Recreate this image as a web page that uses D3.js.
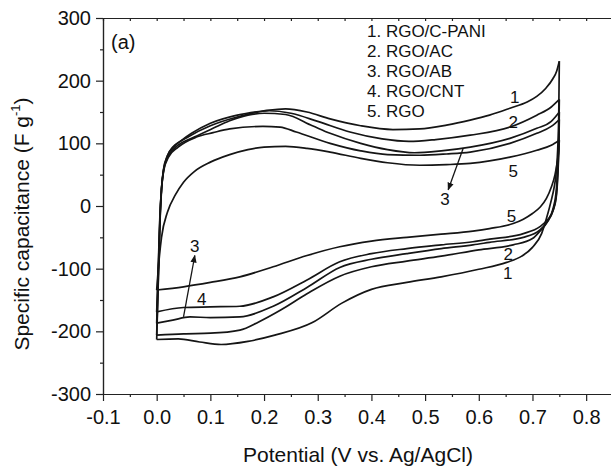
<!DOCTYPE html>
<html>
<head>
<meta charset="utf-8">
<script src="https://cdn.jsdelivr.net/npm/d3@7"></script>
<style>
  body { margin: 0; background: #fff; }
  svg text { font-family: "Liberation Sans", Arial, sans-serif; fill: #111; }
</style>
</head>
<body>
<svg id="chart" width="611" height="472"></svg>
<script>
// tick values
var xMajor = [-0.1, 0.0, 0.1, 0.2, 0.3, 0.4, 0.5, 0.6, 0.7, 0.8];
var xMinor = [-0.05, 0.05, 0.15, 0.25, 0.35, 0.45, 0.55, 0.65, 0.75];
var yMajor = [-300, -200, -100, 0, 100, 200, 300];
var yMinor = [-250, -150, -50, 50, 150, 250];

var legendItems = ["1. RGO/C-PANI", "2. RGO/AC", "3. RGO/AB", "4. RGO/CNT", "5. RGO"];

// CV loops, [potential V, capacitance F/g]; up = anodic sweep, down = cathodic sweep
var curve1Up = [[0,-213],[0.003,-120],[0.006,-30],[0.009,25],[0.013,58],[0.02,80],[0.03,94],[0.045,104],[0.065,116],[0.1,132],[0.15,145],[0.2,152],[0.24,155],[0.28,150],[0.323,139],[0.38,128],[0.44,122],[0.49,123],[0.54,129],[0.584,137],[0.62,145],[0.658,156],[0.69,166],[0.708,175],[0.725,188],[0.738,203],[0.745,215],[0.75,231]];
var curve1Down = [[0.75,231],[0.749,150],[0.747,90],[0.744,52],[0.74,28],[0.735,9],[0.726,-20],[0.717,-44],[0.70,-66],[0.68,-80],[0.652,-90],[0.60,-101],[0.53,-113],[0.466,-122],[0.40,-133],[0.345,-155],[0.29,-186],[0.22,-206],[0.17,-216],[0.12,-221],[0.08,-217],[0.04,-212],[0,-213]];

var curve2Up = [[0,-206],[0.003,-115],[0.006,-25],[0.009,28],[0.013,60],[0.02,80],[0.035,97],[0.06,111],[0.1,128],[0.15,142],[0.21,152],[0.25,148],[0.3,135],[0.36,118],[0.42,107],[0.47,103],[0.52,106],[0.584,113],[0.658,126],[0.708,145],[0.735,158],[0.75,170]];
var curve2Down = [[0.75,170],[0.749,110],[0.747,62],[0.744,22],[0.738,-5],[0.728,-25],[0.714,-40],[0.70,-52],[0.664,-62],[0.60,-70],[0.53,-80],[0.466,-88],[0.40,-97],[0.341,-112],[0.28,-140],[0.231,-166],[0.19,-185],[0.155,-198],[0.1,-203],[0.05,-204],[0,-206]];

var curve3Up = [[0,-187],[0.003,-105],[0.006,-20],[0.009,28],[0.013,58],[0.022,80],[0.04,97],[0.07,110],[0.105,124],[0.136,136],[0.17,145],[0.2,148],[0.24,146],[0.29,128],[0.323,116],[0.38,100],[0.43,90],[0.48,85],[0.53,88],[0.584,94],[0.658,108],[0.708,124],[0.735,135],[0.75,150]];
var curve3Down = [[0.75,150],[0.749,100],[0.747,52],[0.744,15],[0.738,-8],[0.728,-25],[0.714,-38],[0.683,-50],[0.62,-58],[0.589,-62],[0.53,-68],[0.466,-76],[0.40,-85],[0.341,-98],[0.28,-130],[0.217,-160],[0.155,-177],[0.1,-178],[0.062,-177],[0.03,-182],[0,-187]];

var curve4Up = [[0,-169],[0.003,-95],[0.006,-15],[0.009,28],[0.013,56],[0.022,78],[0.04,94],[0.074,110],[0.105,117],[0.136,123],[0.198,127],[0.23,126],[0.26,118],[0.323,100],[0.38,88],[0.43,82],[0.49,81],[0.54,83],[0.584,86],[0.658,100],[0.708,116],[0.735,127],[0.75,138]];
var curve4Down = [[0.75,138],[0.749,90],[0.747,45],[0.744,12],[0.738,-8],[0.728,-22],[0.714,-33],[0.683,-44],[0.62,-53],[0.589,-57],[0.53,-62],[0.466,-68],[0.40,-76],[0.341,-89],[0.28,-118],[0.217,-145],[0.155,-160],[0.1,-161],[0.05,-162],[0,-169]];

var curve5Up = [[0,-134],[0.003,-100],[0.009,-50],[0.02,-10],[0.035,18],[0.05,38],[0.07,55],[0.1,70],[0.136,82],[0.17,90],[0.2,94],[0.24,95],[0.28,92],[0.323,86],[0.38,76],[0.43,69],[0.49,65],[0.54,66],[0.584,68],[0.658,78],[0.708,89],[0.735,97],[0.75,105]];
var curve5Down = [[0.75,105],[0.749,90],[0.747,75],[0.742,50],[0.735,30],[0.726,12],[0.714,-2],[0.70,-12],[0.683,-21],[0.664,-28],[0.62,-36],[0.589,-40],[0.53,-45],[0.466,-50],[0.40,-56],[0.341,-65],[0.28,-79],[0.217,-97],[0.155,-113],[0.1,-122],[0.05,-129],[0,-134]];

// curve labels [potential, capacitance, text]
var curveLabels = [[0.667,174,"1"],[0.664,134,"2"],[0.664,56,"5"],[0.537,12,"3"],[0.661,-15,"5"],[0.655,-76,"2"],[0.654,-107,"1"],[0.071,-64,"3"],[0.084,-148,"4"]];
// arrows [v0, c0, v1, c1]
var arrows = [[0.571,92,0.543,26],[0.05,-177,0.071,-79]];

var svg = d3.select("#chart");

var x = d3.scaleLinear().domain([-0.1, 0.85]).range([103, 613]);
var y = d3.scaleLinear().domain([-300, 300]).range([394, 18]);

var fmtX = function(d){ return d.toFixed(1); };
var fmtY = function(d){ return String(d); };

// axes
var gx = svg.append("g").attr("transform", "translate(0,394)")
    .call(d3.axisBottom(x).tickValues(xMajor).tickFormat(fmtX).tickSize(7).tickPadding(9).tickSizeOuter(0));
svg.append("g").attr("transform", "translate(0,394)")
    .call(d3.axisBottom(x).tickValues(xMinor).tickFormat("").tickSize(3).tickSizeOuter(0));
svg.append("g").attr("transform", "translate(0,18)")
    .call(d3.axisBottom(x).tickValues(xMajor.concat(xMinor)).tickFormat("").tickSize(3).tickSizeOuter(0));

var gy = svg.append("g").attr("transform", "translate(103,0)")
    .call(d3.axisLeft(y).tickValues(yMajor).tickFormat(fmtY).tickSize(7).tickPadding(5).tickSizeOuter(0));
svg.append("g").attr("transform", "translate(103,0)")
    .call(d3.axisLeft(y).tickValues(yMinor).tickFormat("").tickSize(3).tickSizeOuter(0));

svg.selectAll(".domain, .tick line").attr("stroke", "#222").attr("stroke-width", 1.2);
svg.selectAll(".tick text").attr("font-size", 20).attr("fill", "#111")
    .style("font-family", "'Liberation Sans', Arial, sans-serif");

// axis titles
svg.append("text").attr("x", 358).attr("y", 462).attr("text-anchor", "middle")
    .attr("font-size", 21).text("Potential (V vs. Ag/AgCl)");

var yt = svg.append("text").attr("transform", "translate(29,224) rotate(-90)")
    .attr("text-anchor", "middle").attr("font-size", 21);
yt.append("tspan").text("Specific capacitance (F g");
yt.append("tspan").attr("font-size", 13).attr("dy", -9).text("-1");
yt.append("tspan").attr("dy", 9).text(")");

svg.append("text").attr("x", 111).attr("y", 49).attr("font-size", 20).text("(a)");

// legend text
svg.selectAll(".leg").data(legendItems).enter().append("text")
    .attr("x", 367).attr("y", function(d, i){ return 37 + i * 20; })
    .attr("font-size", 17).text(function(d){ return d; });

// curves
var line = d3.line()
    .x(function(d){ return x(d[0]); })
    .y(function(d){ return y(d[1]); })
    .curve(d3.curveMonotoneX);

var branches = [curve1Up, curve1Down, curve2Up, curve2Down, curve3Up, curve3Down,
                curve4Up, curve4Down, curve5Up, curve5Down];
branches.forEach(function(b){
    var pts = b.slice().sort(function(p, q){ return p[0] - q[0]; });
    svg.append("path").attr("d", line(pts))
        .attr("fill", "none").attr("stroke", "#151515").attr("stroke-width", 1.7)
        .attr("stroke-linejoin", "round");
});

// arrows
svg.append("defs").append("marker").attr("id", "head")
    .attr("viewBox", "0 0 10 10").attr("refX", 9).attr("refY", 5)
    .attr("markerWidth", 6).attr("markerHeight", 6).attr("orient", "auto")
    .append("path").attr("d", "M0,1 L10,5 L0,9 Z").attr("fill", "#151515");

arrows.forEach(function(a){
    svg.append("line")
        .attr("x1", x(a[0])).attr("y1", y(a[1]))
        .attr("x2", x(a[2])).attr("y2", y(a[3]))
        .attr("stroke", "#151515").attr("stroke-width", 1.3)
        .attr("marker-end", "url(#head)");
});

// curve number labels
svg.selectAll(".cl").data(curveLabels).enter().append("text")
    .attr("x", function(d){ return x(d[0]); })
    .attr("y", function(d){ return y(d[1]); })
    .attr("dy", "0.36em").attr("text-anchor", "middle")
    .attr("font-size", 17).text(function(d){ return d[2]; });
</script>
</body>
</html>
